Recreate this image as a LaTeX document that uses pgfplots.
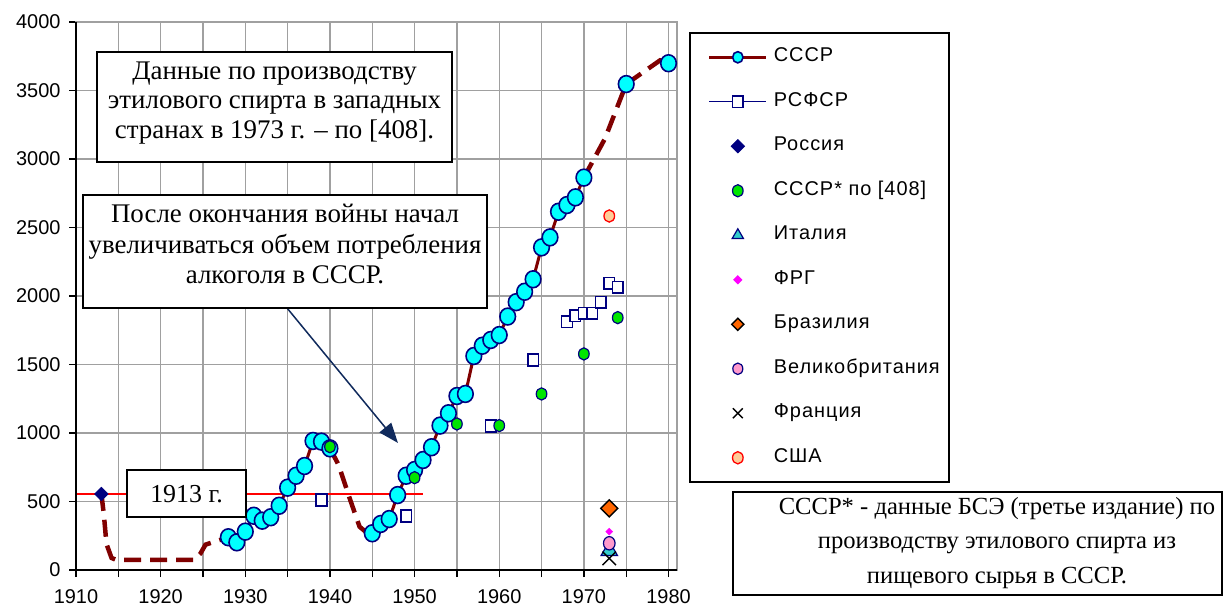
\documentclass[border=0pt]{standalone}
\usepackage{fontspec}
\setmainfont{Liberation Serif}
\setsansfont{Liberation Sans}
\newfontfamily\legfont[LetterSpace=5]{Liberation Sans}
\usepackage{pgfplots}
\pgfplotsset{compat=1.18}
\usetikzlibrary{arrows.meta}

\definecolor{ussr}{HTML}{800000}
\definecolor{navy}{HTML}{000080}
\definecolor{gridc}{HTML}{A0A0A0}
\definecolor{cyanc}{HTML}{00FFFF}
\definecolor{lime}{HTML}{00E600}
\definecolor{tealc}{HTML}{33CCCC}
\definecolor{magc}{HTML}{FF00FF}
\definecolor{orng}{HTML}{FF6600}
\definecolor{pinkc}{HTML}{FF99CC}
\definecolor{peach}{HTML}{FFCC99}
\definecolor{redc}{HTML}{FF0000}
\definecolor{arrowc}{HTML}{102A5C}

\pgfplotsset{
  dashpart/.style={ussr, line width=4.5bp, dash pattern=on 17bp off 9bp, no marks, forget plot},
  ussrmarks/.style={ussr, line width=3bp, mark=*, mark size=7.8bp,
    mark options={solid, fill=cyanc, draw=navy, line width=1.6bp, yscale=1.08}},
}

\begin{document}
\begin{tikzpicture}
\useasboundingbox (0,0) rectangle (1223bp,612bp);
\begin{axis}[
  at={(76bp,42bp)}, anchor=south west,
  scale only axis, width=601bp, height=548bp,
  xmin=1910, xmax=1981, ymin=0, ymax=4000,
  axis line style={gridc, line width=1.4bp},
  tick pos=left,
  xtick={1910,1915,...,1980},
  xticklabels={1910,,1920,,1930,,1940,,1950,,1960,,1970,,1980},
  ytick={0,500,...,4000},
  yticklabels={0,500,1000,1500,2000,2500,3000,3500,4000},
  grid=major,
  major grid style={gridc, line width=1.4bp},
  tick align=outside, major tick length=7bp,
  tick style={black, line width=1.4bp},
  ticklabel style={font=\sffamily\fontsize{20}{22}\selectfont},
  yticklabel style={xshift=-5bp},
  xticklabel style={yshift=-9.5bp},
  clip=false,
  legend cell align=left,
  legend style={at={(axis description cs:1.02,0.9818)}, anchor=north west,
    draw=black, line width=1.6bp, fill=white,
    font=\legfont\fontsize{20}{22}\selectfont,
    inner xsep=18bp, inner ysep=16bp, row sep=27.5bp, column sep=6bp,
    nodes={inner sep=0pt, text height=13bp, text depth=4bp}},
  legend image code/.code={%
    \path (0bp,0bp) (57bp,0bp);
    \draw[mark repeat=2,mark phase=2,#1] plot coordinates {(0bp,0bp) (28.5bp,0bp) (57bp,0bp)};},
]
% 1913 level
\addplot[redc, line width=1.5bp, forget plot] coordinates {(1910,555) (1951,555)};

% USSR, dashed (estimated) parts
\addplot[dashpart] coordinates {(1913,555) (1913.3,400) (1913.6,190) (1914.2,88) (1914.8,73)
  (1924,73) (1924.7,120) (1925.3,185) (1928,239)};
\addplot[dashpart] coordinates {(1940,888) (1941,770) (1942.4,511) (1943.5,316) (1944.3,275) (1945,268)};
\addplot[dashpart] coordinates {(1970,2864) (1972.5,3150) (1975,3547) (1979,3720) (1980,3699)};

% USSR, data points
\addplot[ussrmarks, legend image post style={mark size=5.2bp}] coordinates {
  (1928,239) (1929,202) (1930,280) (1931,396) (1932,360) (1933,385) (1934,469)
  (1935,601) (1936,688) (1937,759) (1938,942) (1939,937) (1940,888)};
\addlegendentry{СССР}
\addplot[ussrmarks, forget plot] coordinates {
  (1945,268) (1946,336) (1947,372) (1948,547) (1949,688) (1950,730) (1951,803)
  (1952,896) (1953,1054) (1954,1144) (1955,1270) (1956,1285) (1957,1562) (1958,1637)
  (1959,1679) (1960,1715) (1961,1850) (1962,1955) (1963,2031) (1964,2122) (1965,2355)
  (1966,2428) (1967,2615) (1968,2664) (1969,2720) (1970,2864)};
\addplot[ussrmarks, only marks, forget plot] coordinates {(1975,3547) (1980,3699)};

% RSFSR
\addplot[only marks, mark=square*, mark size=5.3bp,
  mark options={fill=white, draw=navy, line width=1.5bp, yscale=1.1},
  legend image code/.code={\draw[navy, line width=1.4bp] (0bp,0bp) -- (57bp,0bp);
    \draw[navy, fill=white, line width=1.5bp] (23.2bp,-5.8bp) rectangle (33.8bp,5.8bp);}]
  coordinates {(1939,511) (1949,394) (1959,1051) (1964,1533) (1968,1812) (1969,1856)
  (1970,1873) (1971,1873) (1972,1955) (1973,2092) (1974,2063)};
\addlegendentry{РСФСР}

% Russia
\addplot[only marks, mark=square*, mark size=4.7bp,
  mark options={rotate=45, fill=navy, draw=navy, line width=0.8bp}] coordinates {(1913,555)};
\addlegendentry{Россия}

% USSR* by [408]
\addplot[only marks, mark=*, mark size=5.3bp,
  mark options={fill=lime, draw=navy, line width=1.2bp, yscale=1.15}]
  coordinates {(1940,900) (1950,674) (1955,1066) (1960,1054) (1965,1285) (1970,1577) (1974,1842)};
\addlegendentry{СССР* по [408]}

% Western countries, 1973
\addplot[only marks, mark=triangle*, mark size=9.5bp,
  mark options={fill=tealc, draw=navy, line width=1.2bp},
  legend image post style={mark size=6.5bp}] coordinates {(1973,140)};
\addlegendentry{Италия}
\addplot[only marks, mark=square*, mark size=2.5bp,
  mark options={rotate=45, fill=magc, draw=magc}] coordinates {(1973,280)};
\addlegendentry{ФРГ}
\addplot[only marks, mark=square*, mark size=6bp,
  mark options={rotate=45, fill=orng, draw=black, line width=1.4bp},
  legend image post style={mark size=4.3bp}] coordinates {(1973,450)};
\addlegendentry{Бразилия}
\addplot[only marks, mark=*, mark size=5.8bp,
  mark options={fill=pinkc, draw=navy, line width=1.2bp, yscale=1.15},
  legend image post style={mark size=5bp}] coordinates {(1973,195)};
\addlegendentry{Великобритания\kern-9bp}
\addplot[only marks, mark=x, mark size=9.5bp, mark options={black, line width=1.4bp},
  legend image post style={mark size=7bp}] coordinates {(1973,85)};
\addlegendentry{Франция}
\addplot[only marks, mark=*, mark size=5.3bp,
  mark options={fill=peach, draw=redc, line width=1.3bp, yscale=1.15}] coordinates {(1973,2584)};
\addlegendentry{США}

% black left and bottom axis lines over the grey frame
\draw[black, line width=1.6bp] (rel axis cs:0,1) -- (rel axis cs:0,0) -- (rel axis cs:1,0);
\end{axis}

\draw[arrowc, line width=1.5bp, -{Triangle[length=20bp,width=15bp]}] (287bp,304bp) -- (398bp,169bp);

\draw[line width=1.6bp, fill=white] (97bp,450bp) rectangle (452bp,560bp);
\node[align=center, font=\fontsize{27}{30}\selectfont, inner sep=0pt] at (274.5bp,509bp)
  {Данные по производству\\этилового спирта в западных\\странах в 1973 г. – по [408].};

\draw[line width=1.6bp, fill=white] (83bp,304bp) rectangle (487bp,417bp);
\node[align=center, font=\fontsize{27}{31}\selectfont, inner sep=0pt] at (285bp,368bp)
  {После окончания войны начал\\увеличиваться объем потребления\\алкоголя в СССР.};

\draw[line width=1.6bp, fill=white] (127bp,95bp) rectangle (246bp,142bp);
\node[font=\fontsize{26}{30}\selectfont, inner sep=0pt] at (186.5bp,118bp) {1913 г.};

\draw[line width=1.6bp, fill=white] (733bp,17bp) rectangle (1222bp,120bp);
\node[align=center, font=\fontsize{24.7}{35}\selectfont, inner sep=0pt] at (997bp,69bp)
  {СССР* - данные БСЭ (третье издание) по\\производству этилового спирта из\\пищевого сырья в СССР.};
\end{tikzpicture}
\end{document}
